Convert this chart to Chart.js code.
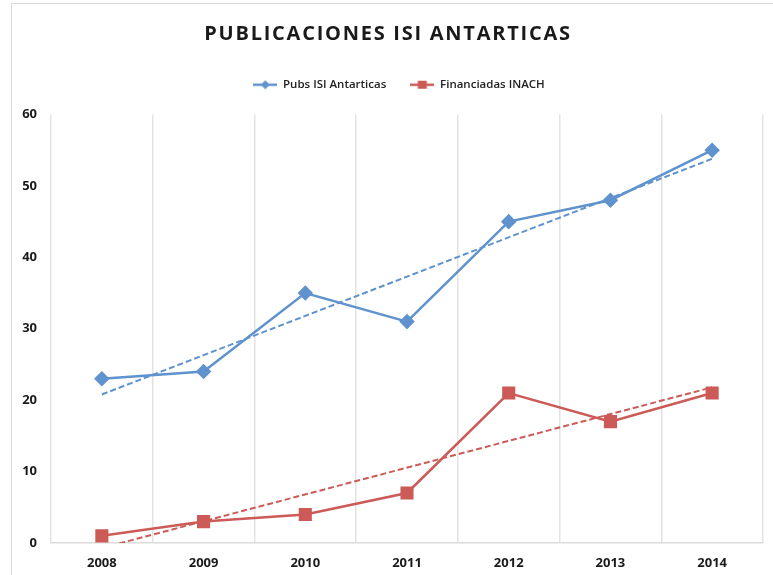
<!DOCTYPE html>
<html>
<head>
<meta charset="utf-8">
<script src="https://cdn.jsdelivr.net/npm/chart.js@4/dist/chart.umd.min.js"></script>
<style>
  html, body { margin: 0; padding: 0; background: #fff; }
  #wrap { position: absolute; left: 0; top: 0; width: 773px; height: 575px; }
  #frame { position: absolute; left: 11px; top: 3px; width: 780px; height: 600px; border: 1px solid #d9d9d9; }
</style>
</head>
<body>
<div id="wrap">
  <div id="frame"></div>
  <canvas id="pubsChart" width="773" height="575"></canvas>
</div>
<script>
const years = ['2008', '2009', '2010', '2011', '2012', '2013', '2014'];
const pubsIsi = [23, 24, 35, 31, 45, 48, 55];
const financiadas = [1, 3, 4, 7, 21, 17, 21];
// dashed trend lines, endpoints
const pubsTrend = [20.8, null, null, null, null, null, 53.8];
const finTrend = [-0.7, null, null, null, null, null, 21.8];

const blue = '#6093cd';
const red = '#cc5a57';

function legendIcon(color, shape) {
    const c = document.createElement('canvas');
    c.width = 24; c.height = 10;
    const g = c.getContext('2d');
    g.strokeStyle = color;
    g.lineWidth = 2.5;
    g.beginPath(); g.moveTo(0, 5); g.lineTo(24, 5); g.stroke();
    g.fillStyle = color;
    if (shape === 'diamond') {
        g.beginPath(); g.moveTo(12, 0.5); g.lineTo(16.5, 5); g.lineTo(12, 9.5); g.lineTo(7.5, 5); g.closePath(); g.fill();
    } else {
        g.fillRect(7.5, 1, 9, 8);
    }
    return c;
}

// spread the title letters, leave room under the legend and nudge title/legend right, like the original
const tweakHeader = {
    id: 'tweakHeader',
    beforeLayout(chart) {
        const lg = chart.legend;
        if (lg && !lg._padded) {
            const fit = lg.fit.bind(lg);
            lg.fit = function () { fit(); this.height += 14; };
            lg._padded = true;
        }
    },
    afterLayout(chart) {
        const tb = chart.titleBlock;
        if (tb) { tb.left += 6; tb.right += 6; }
        const lg = chart.legend;
        if (lg) { lg.left += 17; lg.right += 17; }
    },
    beforeDraw(chart) {
        const tb = chart.titleBlock;
        if (!tb || tb._spaced) return;
        const orig = tb.draw.bind(tb);
        tb.draw = function () {
            chart.ctx.save();
            chart.ctx.letterSpacing = '1.75px';
            orig();
            chart.ctx.restore();
        };
        tb._spaced = true;
    }
};

const ctx = document.getElementById('pubsChart').getContext('2d');

new Chart(ctx, {
    type: 'line',
    plugins: [tweakHeader],
    data: {
        labels: years,
        datasets: [
            {
                label: 'Pubs ISI Antarticas',
                data: pubsIsi,
                borderColor: blue,
                backgroundColor: blue,
                borderWidth: 2.5,
                pointStyle: 'rectRot',
                pointRadius: 6,
                tension: 0
            },
            {
                label: 'Financiadas INACH',
                data: financiadas,
                borderColor: red,
                backgroundColor: red,
                borderWidth: 2.5,
                pointStyle: 'rect',
                pointRadius: 7.5,
                tension: 0
            },
            {
                label: 'trend1',
                data: pubsTrend,
                borderColor: blue,
                borderWidth: 2,
                borderDash: [6, 3],
                pointRadius: 0,
                spanGaps: true
            },
            {
                label: 'trend2',
                data: finTrend,
                borderColor: red,
                borderWidth: 2,
                borderDash: [6, 3],
                pointRadius: 0,
                spanGaps: true
            }
        ]
    },
    options: {
        responsive: false,
        animation: false,
        layout: {
            padding: { left: 0, right: 9, top: 22, bottom: 0 }
        },
        plugins: {
            title: {
                display: true,
                text: 'PUBLICACIONES ISI ANTARTICAS',
                color: '#1a1a1a',
                font: { family: 'Open Sans', size: 20, weight: 'bold' },
                padding: { top: 0, bottom: 9 }
            },
            legend: {
                labels: {
                    generateLabels: chart => [
                        { text: 'Pubs ISI Antarticas', pointStyle: legendIcon(blue, 'diamond'), fillStyle: blue, strokeStyle: blue, lineWidth: 0, datasetIndex: 0, fontColor: '#222' },
                        { text: 'Financiadas INACH', pointStyle: legendIcon(red, 'square'), fillStyle: red, strokeStyle: red, lineWidth: 0, datasetIndex: 1, fontColor: '#222' }
                    ],
                    usePointStyle: true,
                    pointStyleWidth: 24,
                    boxHeight: 10,
                    padding: 24,
                    color: '#222',
                    font: { family: 'Open Sans', size: 11.5, weight: '600' }
                }
            },
            tooltip: { enabled: false }
        },
        scales: {
            x: {
                offset: true,
                afterFit: scale => { scale.height = 32; },
                grid: {
                    offset: true,
                    color: '#e3e3e3',
                    lineWidth: 1.5,
                    drawTicks: false
                },
                border: { color: '#dcdcdc', width: 1.5 },
                ticks: {
                    color: '#1a1a1a',
                    padding: 12,
                    font: { family: 'Open Sans', size: 13, weight: 'bold' }
                }
            },
            y: {
                min: 0,
                max: 60,
                afterFit: scale => { scale.width = 51; },
                grid: { display: false, drawTicks: false },
                border: { display: false },
                ticks: {
                    stepSize: 10,
                    color: '#1a1a1a',
                    padding: 14,
                    font: { family: 'Open Sans', size: 13, weight: 'bold' }
                }
            }
        }
    }
});
</script>
</body>
</html>
